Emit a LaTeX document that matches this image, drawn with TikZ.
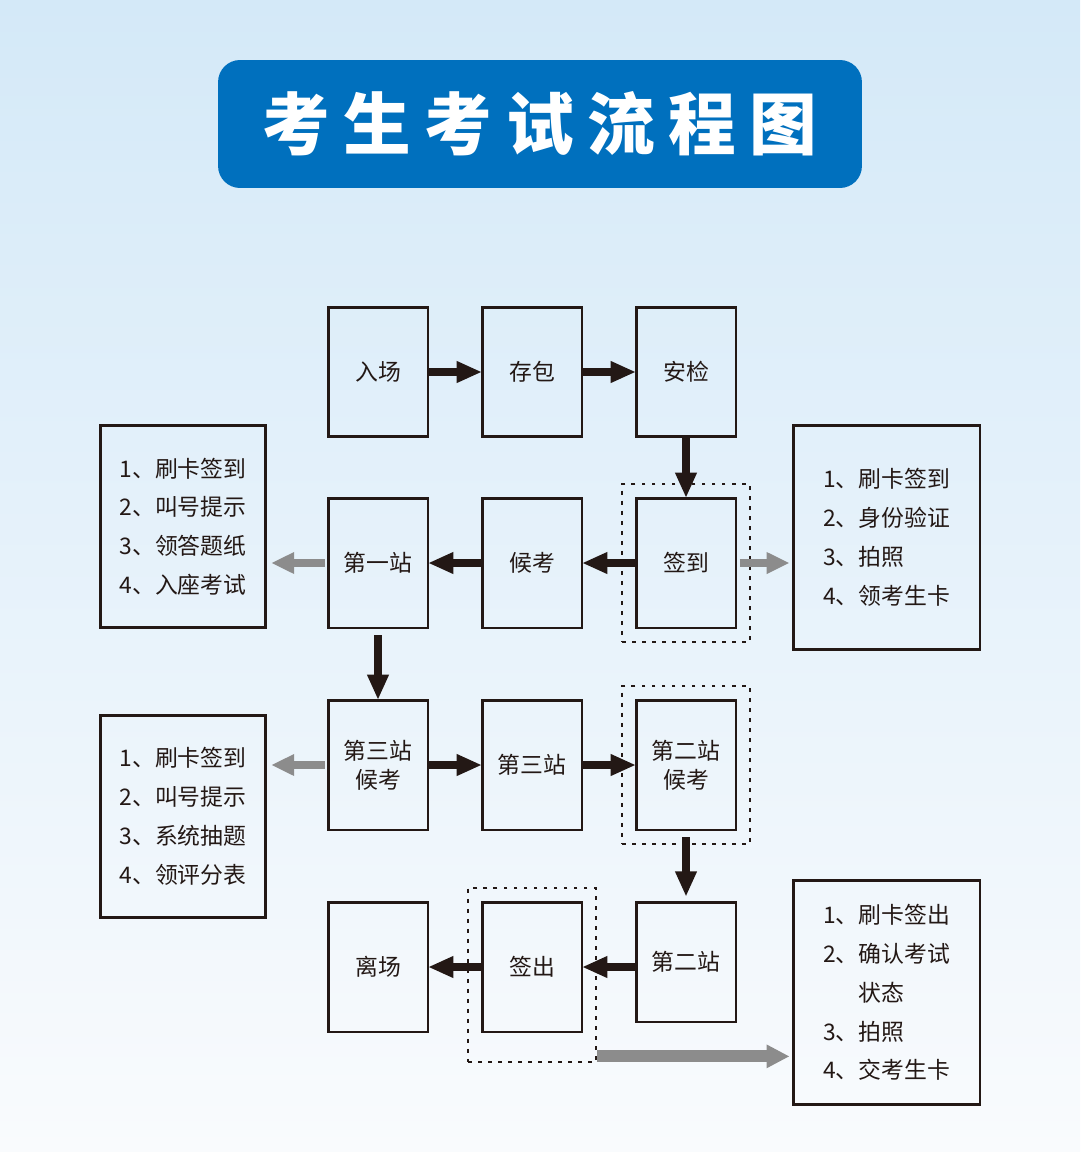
\documentclass[tikz,border=0pt]{standalone}
\usepackage{fontspec}
\setmainfont{Noto Sans CJK SC}
\usetikzlibrary{positioning,arrows.meta,fit}

\definecolor{ink}{HTML}{231815}
\definecolor{titleblue}{HTML}{0070BE}
\definecolor{bgtop}{HTML}{D4E9F8}
\definecolor{bgbot}{HTML}{F9FBFD}
\definecolor{arrowgray}{HTML}{8C8C8C}

\tikzset{
	stepbox/.style={draw=ink, line width=1.7pt, minimum width=2cm, minimum height=2.6cm, inner sep=0pt, outer sep=0pt, align=center, text=ink, font=\fontsize{13}{16.5}\selectfont},
	infobox/.style={draw=ink, line width=1.7pt, inner sep=0pt, outer sep=0pt, align=left, text=ink, font=\fontsize{13}{22.1}\selectfont},
	dotbox/.style={draw=ink, line width=1.6pt, dash pattern=on 2.2pt off 3.5pt, inner sep=0.28cm},
	blk/.style={draw=ink, line width=4.2pt, -{Triangle[length=14.5pt,width=11.5pt]}},
	gry/.style={draw=arrowgray, line width=4.5pt, -{Triangle[length=13pt,width=11.5pt]}},
}

\begin{document}
\begin{tikzpicture}[x=0.02cm, y=-0.02cm]
	\shade[top color=bgtop, bottom color=bgbot] (0,0) rectangle (1080,1152);
	\useasboundingbox (0,0) rectangle (1080,1152);

	\node[fill=titleblue, rounded corners=0.44cm, minimum width=12.88cm, minimum height=2.56cm, text=white,
		font=\fontsize{38.5}{40}\selectfont\bfseries\addfontfeatures{LetterSpace=20}] (title) at (540,124) {考生考试流程图};

	% four rows of steps
	\path (378,372) node[stepbox] (enter) {入场} ++(154,0) node[stepbox] (bag) {存包} ++(154,0) node[stepbox] (check) {安检};
	\path (378,563) node[stepbox] (st1) {第一站} ++(154,0) node[stepbox] (wait) {候考} ++(154,0) node[stepbox] (sign) {签到};
	\path (378,765) node[stepbox] (w3) {第三站\\候考} ++(154,0) node[stepbox] (st3) {第三站} ++(154,0) node[stepbox] (w2) {第二站\\候考};
	\path (378,967) node[stepbox] (leave) {离场} ++(154,0) node[stepbox] (out) {签出} ++(154,-5) node[stepbox, minimum height=2.4cm] (st2) {第二站};

	\node[infobox, minimum width=3.32cm, minimum height=4.06cm] (info1) at (183,526.5) {1、刷卡签到\\2、叫号提示\\3、领答题纸\\4、入座考试};
	\node[infobox, minimum width=3.74cm, minimum height=4.5cm] (info2) at (886.5,537.5) {1、刷卡签到\\2、身份验证\\3、拍照\\4、领考生卡};
	\node[infobox, minimum width=3.32cm, minimum height=4.06cm] (info3) at (183,816.5) {1、刷卡签到\\2、叫号提示\\3、系统抽题\\4、领评分表};
	\node[infobox, minimum width=3.74cm, minimum height=4.5cm] (info4) at (886.5,992.5) {1、刷卡签出\\2、确认考试\\\phantom{2、}状态\\3、拍照\\4、交考生卡};

	\node[dotbox, fit=(sign)] (signbox) {};
	\node[dotbox, fit=(w2)] (w2box) {};
	\coordinate (outlow) at ([yshift=-0.32cm]out.south);
	\node[dotbox, fit=(out) (outlow)] (outbox) {};

	\draw[blk] (enter) -- (bag);
	\draw[blk] (bag) -- (check);
	\draw[blk] (check) -- (sign);
	\draw[blk] (sign) -- (wait);
	\draw[blk] (wait) -- (st1);
	\draw[blk, shorten <=4pt] (st1) -- (w3);
	\draw[blk] (w3) -- (st3);
	\draw[blk] (st3) -- (w2);
	\draw[blk, shorten <=4pt, shorten >=3pt] (w2) -- (st2);
	\draw[blk] (st2.west |- out) -- (out);
	\draw[blk] (out) -- (leave);

	\draw[gry, shorten <=2pt, shorten >=3pt] (st1.west) -- (info1.east |- st1.west);
	\draw[gry, shorten <=2pt, shorten >=2pt] (sign.east) -- (info2.west |- sign.east);
	\draw[gry, shorten <=2pt, shorten >=3pt] (w3.west) -- (info3.east |- w3.west);
	\coordinate (gout) at ([yshift=4pt]outbox.south east);
	\draw[gry, line width=6.8pt, -{Triangle[length=13pt,width=12.5pt]}, shorten >=2pt] (gout) -- (gout -| info4.west);
\end{tikzpicture}
\end{document}
